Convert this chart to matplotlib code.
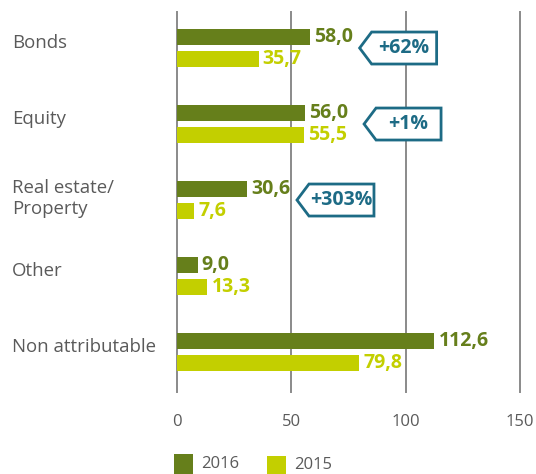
import numpy as np
import matplotlib
matplotlib.use('Agg')
import matplotlib.pyplot as plt
from matplotlib.patches import Polygon, Rectangle

categories = ['Bonds', 'Equity', 'Real estate/\nProperty', 'Other', 'Non attributable']
values_2016 = [58.0, 56.0, 30.6, 9.0, 112.6]
values_2015 = [35.7, 55.5, 7.6, 13.3, 79.8]
changes = ['+62%', '+1%', '+303%', None, None]
xticks = [0, 50, 100, 150]

DARK = '#667f1b'
LIGHT = '#c3cf00'
TEAL = '#1d6b85'
GRAY = '#5a5a5a'
FONT = 'Open Sans'

W, H = 536, 474
fig = plt.figure(figsize=(W / 100, H / 100), dpi=100)
# axes box in pixels: x 177..520, y 12..392
ax = fig.add_axes([177 / W, 1 - 392 / H, 343 / W, 380 / H])

n = len(categories)
y = np.arange(n)
off = 11 / 76
bh = 16 / 76

ax.barh(y - off, values_2016, height=bh, color=DARK, zorder=3)
ax.barh(y + off, values_2015, height=bh, color=LIGHT, zorder=3)

ax.set_xlim(0, 150)
ax.set_ylim(n - 0.474, -0.474)

for xv in xticks:
    ax.axvline(xv, color='#8a8a8a', lw=1.4, zorder=1, clip_on=False)

for s in ax.spines.values():
    s.set_visible(False)
ax.set_yticks([])
ax.set_xticks(xticks)
ax.set_xticklabels([str(t) for t in xticks], fontsize=12, color=GRAY, family=FONT)
ax.tick_params(axis='x', length=0, pad=16)

px_x = 343 / 150.0   # pixels per data unit (x)
px_y = 76.0          # pixels per data unit (y)

for i in range(n):
    ax.text(values_2016[i] + 4 / px_x, y[i] - off, f'{values_2016[i]:.1f}'.replace('.', ','),
            va='center', ha='left', fontsize=14, fontweight='bold', color=DARK,
            family=FONT, zorder=4)
    ax.text(values_2015[i] + 4 / px_x, y[i] + off, f'{values_2015[i]:.1f}'.replace('.', ','),
            va='center', ha='left', fontsize=14, fontweight='bold', color=LIGHT,
            family=FONT, zorder=4)
    dy = 1.5 if '\n' in categories[i] else 5
    fig.text(12 / W, 1 - (48 + 76 * i - dy) / H, categories[i], ha='left', va='center',
             fontsize=13.4, color=GRAY, family=FONT, linespacing=1.25)

# change tags
for i, lab in enumerate(changes):
    if lab is None:
        continue
    tip = values_2016[i] + 50 / px_x + (9 / px_x if i == 1 else 0)
    w = 77 / px_x
    d = 12 / px_x
    h = 16 / px_y
    yc = y[i]
    verts = [(tip, yc), (tip + d, yc - h), (tip + w, yc - h), (tip + w, yc + h), (tip + d, yc + h)]
    ax.add_patch(Polygon(verts, closed=True, facecolor='white', edgecolor=TEAL,
                         lw=2, zorder=5, clip_on=False))
    ax.text(tip + (d + w) / 2, yc, lab, ha='center', va='center', fontsize=14,
            fontweight='bold', color=TEAL, family=FONT, zorder=6)

# legend
fig.patches.append(Rectangle((174 / W, 0), 19 / W, 20 / H, transform=fig.transFigure,
                             facecolor=DARK, edgecolor='none'))
fig.text(201 / W, 10 / H, '2016', ha='left', va='center', fontsize=12, color=GRAY, family=FONT)
fig.patches.append(Rectangle((267 / W, 0), 19 / W, 18 / H, transform=fig.transFigure,
                             facecolor=LIGHT, edgecolor='none'))
fig.text(294 / W, 9 / H, '2015', ha='left', va='center', fontsize=12, color=GRAY, family=FONT)

fig.savefig('out.png', dpi=100)
